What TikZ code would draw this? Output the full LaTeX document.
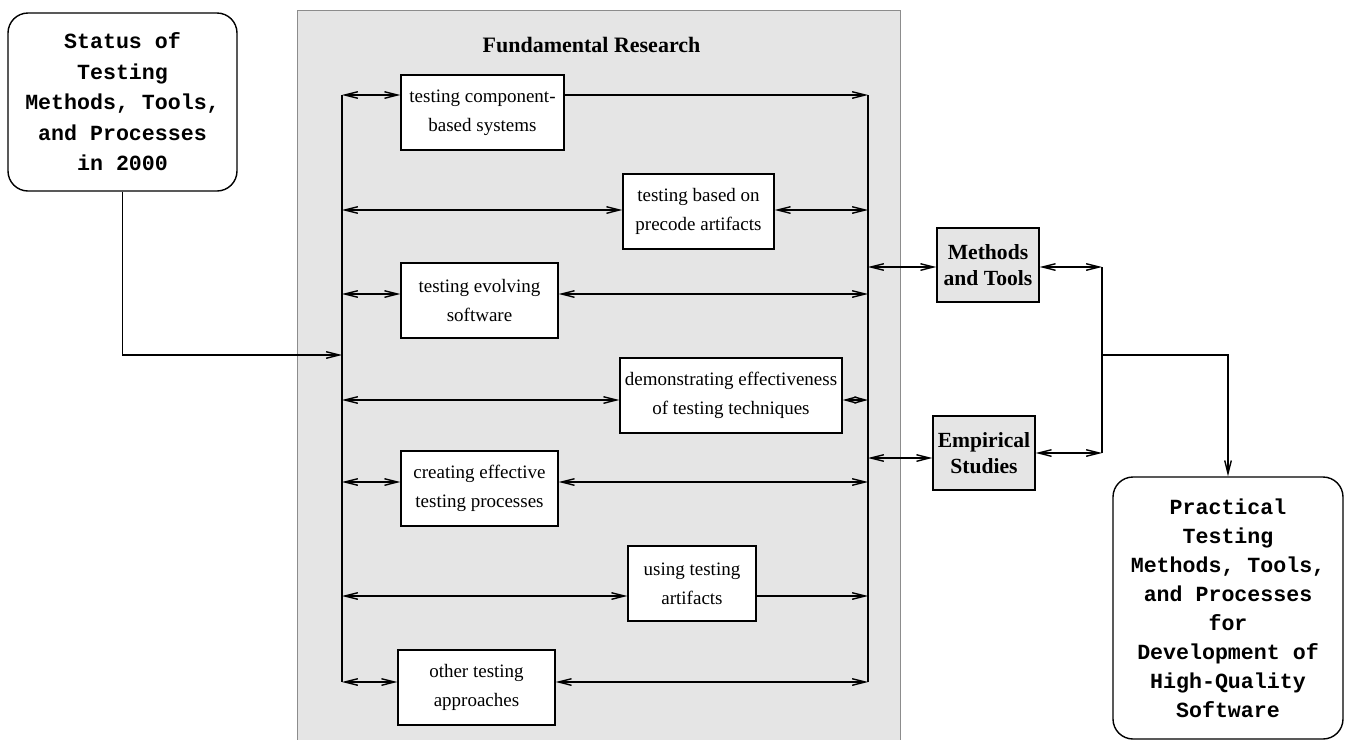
\documentclass[tikz,border=0pt]{standalone}
\usepackage{fontspec}
\setmainfont{Liberation Serif}
\setmonofont{Liberation Mono}
\usetikzlibrary{arrows.meta,positioning}

\begin{document}
\begin{tikzpicture}[x=0.5pt, y=-0.5pt,
  font=\fontsize{9.5}{14.5}\selectfont,
  task/.style={draw, line width=0.7pt, fill=white, align=center, inner sep=0pt,
  minimum height=37.5pt},
  goal/.style={draw, line width=0.7pt, fill=black!10, align=center, inner sep=0pt,
  minimum width=51pt, minimum height=37pt, font=\fontsize{10.8}{13}\selectfont\bfseries},
  endbox/.style={draw, line width=0.7pt, rounded corners=10pt, align=center, inner sep=0pt,
  font=\fontsize{10.8}{15.25}\selectfont\ttfamily\bfseries},
  arrow/.style={-{Straight Barb[length=6.5pt,width=3.3pt]}, line width=0.7pt},
  both/.style={{Straight Barb[length=6.5pt,width=3.3pt]}-{Straight Barb[length=6.5pt,width=3.3pt]}, line width=0.7pt},
  bothshort/.style={{Straight Barb[length=5.5pt,width=3pt]}-{Straight Barb[length=5.5pt,width=3pt]}, line width=0.7pt},
  bus/.style={line width=0.7pt}]
\useasboundingbox (0,0) rectangle (1346,740);
% research area
\draw[draw=black!45, line width=0.5pt, fill=black!10] (297,10) rectangle (900,760);
\node[font=\fontsize{11}{13}\selectfont\bfseries] (fund) at (591.5,45) {Fundamental Research};

\node[endbox, minimum width=114.5pt, minimum height=89pt] (status) at (122.5,102)
  {Status of\\Testing\\Methods, Tools,\\and Processes\\in 2000};

\node[task, minimum width=81.5pt] (comp) at (482.5,112.5) {testing component-\\based systems};
\node[task, minimum width=75.5pt] (precode) at (698.5,211.5) {testing based on\\precode artifacts};
\node[task, minimum width=78.5pt] (evolve) at (479.5,300.5) {testing evolving\\software};
\node[task, minimum width=111pt] (demo) at (731,395.5) {demonstrating effectiveness\\of testing techniques};
\node[task, minimum width=78.5pt] (process) at (479.5,488.5) {creating effective\\testing processes};
\node[task, minimum width=64pt] (artifact) at (692,583.5) {using testing\\artifacts};
\node[task, minimum width=78.5pt] (other) at (476.5,687.5) {other testing\\approaches};

\node[goal] (tools) at (988,265) {Methods\\and Tools};
\node[goal] (empir) at (984,453) {Empirical\\Studies};

\node[endbox, minimum width=115pt, minimum height=131pt, font=\fontsize{10.8}{14.5}\selectfont\ttfamily\bfseries]
  (practical) at (1228,608)
  {Practical\\Testing\\Methods, Tools,\\and Processes\\for\\Development of\\High-Quality\\Software};

% buses
\coordinate (ltop) at (342,95);
\coordinate (lbot) at (342,682);
\coordinate (rtop) at (868,95);
\coordinate (rbot) at (868,682);
\draw[bus] (ltop) -- (lbot);
\draw[bus] (rtop) -- (rbot);

\foreach \n/\y/\tip in {comp/95/arrow, precode/210/both, evolve/294/both, demo/400/bothshort,
  process/482/both, artifact/596/arrow, other/682/both} {
  \coordinate (l\n) at (342,\y);
  \coordinate (r\n) at (868,\y);
  \draw[both] (l\n) -- (l\n -| \n.west);
  \draw[\tip] (r\n -| \n.east) -- (r\n);
}

% input
\coordinate (feed) at (342,355);
\draw[arrow] (status.south) |- (feed);

% output side
\coordinate (rtools) at (868,267);
\coordinate (rempir) at (868,458);
\coordinate (ctools) at (1102,267);
\coordinate (cempir) at (1102,453);
\coordinate (merge) at (1102,355);
\draw[both] (rtools) -- (rtools -| tools.west);
\draw[both] (rempir) -- (rempir -| empir.west);
\draw[both] (ctools -| tools.east) -- (ctools);
\draw[both] (cempir -| empir.east) -- (cempir);
\draw[bus] (ctools) -- (cempir);
\draw[arrow] (merge) -| (practical.north);
\end{tikzpicture}
\end{document}
